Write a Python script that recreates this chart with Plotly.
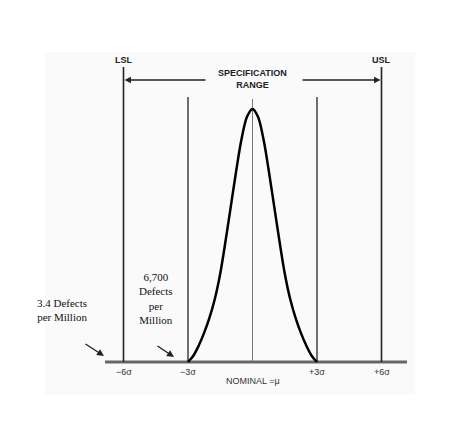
import plotly.graph_objects as go

# bell curve (x in sigma, height relative to peak)
curve_x = [-3.0, -2.75, -2.5, -2.25, -2.0, -1.75, -1.5, -1.25, -1.0, -0.75, -0.5, -0.25, 0.0,
           0.25, 0.5, 0.75, 1.0, 1.25, 1.5, 1.75, 2.0, 2.25, 2.5, 2.75, 3.0]
curve_y = [0.0, 0.025, 0.065, 0.115, 0.175, 0.25, 0.35, 0.48, 0.62, 0.76, 0.885, 0.97, 1.0,
           0.97, 0.885, 0.76, 0.62, 0.48, 0.35, 0.25, 0.175, 0.115, 0.065, 0.025, 0.0]

spec_limits = [-6, 6]
spec_labels = ["LSL", "USL"]
sigma_lines = [-3, 3]
tick_pos = [-6, -3, 3, 6]
tick_labels = ["\u22126\u03c3", "\u22123\u03c3", "+3\u03c3", "+6\u03c3"]

WIN_W, WIN_H = 474, 424
OFF = 8            # default page margin around the plot div
W, H = WIN_W - 2 * OFF, WIN_H - 2 * OFF
PX = 21.5          # pixels per sigma
X0 = 252.5         # window pixel of nominal
BASE = 362         # window pixel row of baseline
PY = 253           # pixels for curve peak


def dx(px):
    return (px - X0) / PX


def dy(py):
    return (BASE - py) / PY


def paper_x(px):
    return (px - OFF) / W


def paper_y(py):
    return 1 - (py - OFF) / H


fig = go.Figure()

# baseline
fig.add_trace(go.Scatter(x=[dx(105), dx(407)], y=[0, 0], mode="lines",
                         line=dict(color="#666666", width=3), hoverinfo="skip"))

# spec limit lines
for xv in spec_limits:
    fig.add_trace(go.Scatter(x=[xv, xv], y=[0, dy(67)], mode="lines",
                             line=dict(color="#222222", width=1.6), hoverinfo="skip"))
# +/-3 sigma lines
for xv in sigma_lines:
    fig.add_trace(go.Scatter(x=[xv, xv], y=[0, dy(97)], mode="lines",
                             line=dict(color="#333333", width=1.4), hoverinfo="skip"))
# nominal line
fig.add_trace(go.Scatter(x=[0, 0], y=[0, dy(99)], mode="lines",
                         line=dict(color="#777777", width=1), hoverinfo="skip"))

# bell curve
fig.add_trace(go.Scatter(x=curve_x, y=curve_y, mode="lines",
                         line=dict(color="black", width=2.5, shape="spline", smoothing=1.0),
                         hoverinfo="skip"))

sans = dict(family="Liberation Sans, Arial", size=9, color="#222222")
serif = dict(family="Liberation Serif, Times New Roman", size=11, color="#111111")
tick_font = dict(family="Liberation Sans, Arial", size=9, color="#333333")

ann = []
for xv, lab in zip(spec_limits, spec_labels):
    ann.append(dict(x=xv, y=dy(60), text="<b>" + lab + "</b>", showarrow=False, font=sans))
ann.append(dict(x=0, y=dy(79), text="<b>SPECIFICATION<br>RANGE</b>", showarrow=False,
                font=sans))
# spec range arrows
ann.append(dict(x=spec_limits[0], y=dy(80), ax=dx(207), ay=dy(80), axref="x", ayref="y",
                text="", showarrow=True, arrowhead=2, arrowsize=1, arrowwidth=1.3,
                arrowcolor="#222222", standoff=1))
ann.append(dict(x=spec_limits[1], y=dy(80), ax=dx(301), ay=dy(80), axref="x", ayref="y",
                text="", showarrow=True, arrowhead=2, arrowsize=1, arrowwidth=1.3,
                arrowcolor="#222222", standoff=1))

for xv, lab in zip(tick_pos, tick_labels):
    ann.append(dict(x=xv, y=dy(372), text=lab, showarrow=False, font=tick_font))
ann.append(dict(x=0, y=dy(381), text="NOMINAL =\u03bc", showarrow=False, font=tick_font))

ann.append(dict(x=dx(62), y=dy(310), text="3.4 Defects<br>per Million", showarrow=False,
                font=serif))
ann.append(dict(x=dx(156), y=dy(298), text="6,700<br>Defects<br>per<br>Million",
                showarrow=False, font=serif))

ann.append(dict(x=dx(104), y=dy(356), ax=dx(84), ay=dy(343), axref="x", ayref="y",
                text="", showarrow=True, arrowhead=2, arrowsize=1, arrowwidth=1.4,
                arrowcolor="#222222"))
ann.append(dict(x=dx(174), y=dy(357), ax=dx(156), ay=dy(345), axref="x", ayref="y",
                text="", showarrow=True, arrowhead=2, arrowsize=1, arrowwidth=1.4,
                arrowcolor="#222222"))

shapes = [
    # faint panel behind the drawing
    dict(type="rect", xref="paper", yref="paper", x0=paper_x(45), x1=paper_x(415),
         y0=paper_y(395), y1=paper_y(52), fillcolor="#fafafa", line=dict(width=0),
         layer="below"),
]

fig.update_layout(
    width=W, height=H,
    margin=dict(l=0, r=0, t=0, b=0),
    paper_bgcolor="white", plot_bgcolor="rgba(0,0,0,0)",
    showlegend=False,
    xaxis=dict(range=[dx(OFF), dx(OFF + W)], visible=False, fixedrange=True),
    yaxis=dict(range=[dy(OFF + H), dy(OFF)], visible=False, fixedrange=True),
    annotations=ann, shapes=shapes,
)

fig.write_html("out.html", config={"displayModeBar": False})
